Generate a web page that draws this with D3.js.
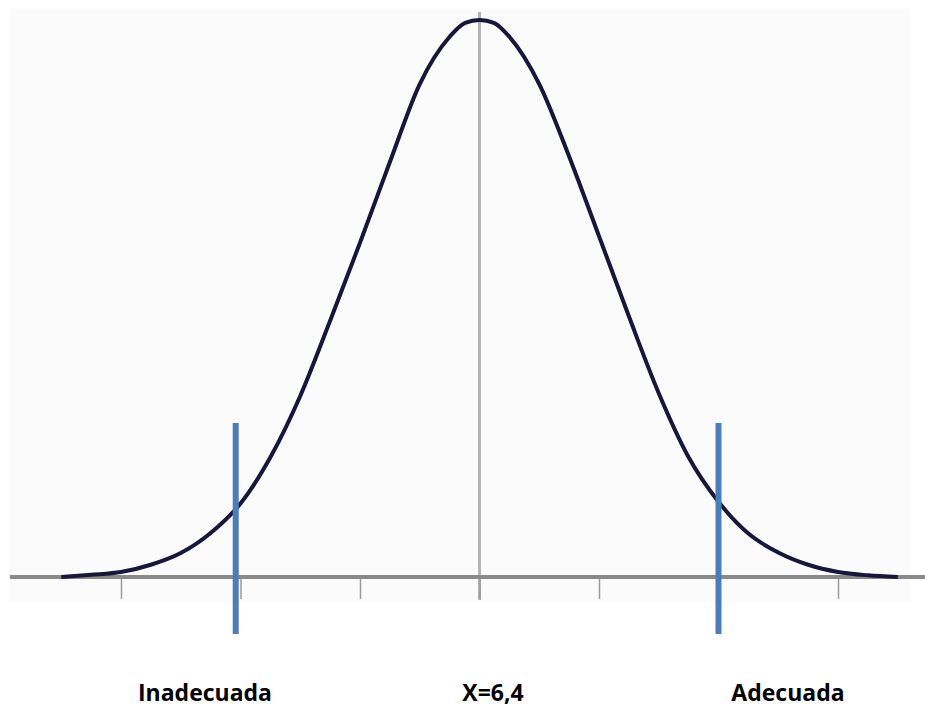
<!DOCTYPE html>
<html>
<head>
<meta charset="utf-8">
<script src="https://cdn.jsdelivr.net/npm/d3@7"></script>
<style>
  body { margin: 0; background: #fff; }
  text { font-family: "Open Sans", sans-serif; font-weight: bold; }
</style>
</head>
<body>
<script>
// curve: position in sigma units, height relative to the peak
var sigmas = [-3.5, -3.25, -3, -2.75, -2.5, -2.25, -2, -1.75, -1.5, -1.25, -1, -0.75, -0.5, -0.25,
              -0.12, 0, 0.12, 0.25, 0.5, 0.75, 1, 1.25, 1.5, 1.75, 2, 2.25, 2.5, 2.75, 3, 3.25, 3.5];
var heights = [0, 0.004, 0.009, 0.022, 0.043, 0.079, 0.132, 0.215, 0.325, 0.46, 0.60, 0.745, 0.885, 0.97,
               0.995, 1.0, 0.995, 0.97, 0.885, 0.755, 0.612, 0.468, 0.33, 0.215, 0.135, 0.078, 0.044, 0.022, 0.009, 0.003, 0];
var tickValues = [-3, -2, -1, 0, 1, 2, 3];
var cutoffs = [-2.04, 2.0];
var labels = ["Inadecuada", "X=6,4", "Adecuada"];

var width = 925,
    height = 708;

var svg = d3.select("body")
  .append("svg")
  .attr("width", width)
  .attr("height", height);

var x = d3.scaleLinear()
  .domain([-3, 3])
  .range([121, 838]);

var y = d3.scaleLinear()
  .domain([0, 1])
  .range([577, 20]);

// pale plot area behind the picture
svg.append("rect")
  .attr("x", 10)
  .attr("y", 9)
  .attr("width", 900)
  .attr("height", 593)
  .style("fill", "#fbfbfb");

// centre line
svg.append("line")
  .attr("x1", x(0)).attr("x2", x(0))
  .attr("y1", 12).attr("y2", 600)
  .style("stroke", "#b4b4b4")
  .style("stroke-width", 3);

// horizontal axis with ticks below
var axis = svg.append("g")
  .attr("transform", "translate(0," + y(0) + ")")
  .call(d3.axisBottom(x).tickValues(tickValues).tickSize(22).tickFormat(""));
axis.select(".domain").remove();
axis.selectAll(".tick line")
  .style("stroke", "#9a9a9a")
  .style("stroke-width", 1.5);

svg.append("line")
  .attr("x1", 10).attr("x2", width)
  .attr("y1", y(0)).attr("y2", y(0))
  .style("stroke", "#8a8a8a")
  .style("stroke-width", 4);

// the bell curve
var pts = sigmas.map(function(s, i) { return [s, heights[i]]; });
var line = d3.line()
  .x(function(d) { return x(d[0]); })
  .y(function(d) { return y(d[1]); })
  .curve(d3.curveMonotoneX);

svg.append("path")
  .datum(pts)
  .attr("d", line)
  .style("fill", "none")
  .style("stroke", "#17173d")
  .style("stroke-width", 4)
  .style("stroke-linejoin", "round");

// cut-off markers
svg.selectAll(".cut")
  .data(cutoffs)
 .enter().append("line")
  .attr("class", "cut")
  .attr("x1", x).attr("x2", x)
  .attr("y1", 423).attr("y2", 634)
  .style("stroke", "#4a7ebb")
  .style("stroke-width", 6);

// labels under the chart
var labelPos = [205, 493, 788];
svg.selectAll(".lbl")
  .data(labels)
 .enter().append("text")
  .attr("class", "lbl")
  .attr("x", function(d, i) { return labelPos[i]; })
  .attr("y", 701)
  .attr("text-anchor", "middle")
  .style("font-size", "23px")
  .style("fill", "#000")
  .text(String);
</script>
</body>
</html>
